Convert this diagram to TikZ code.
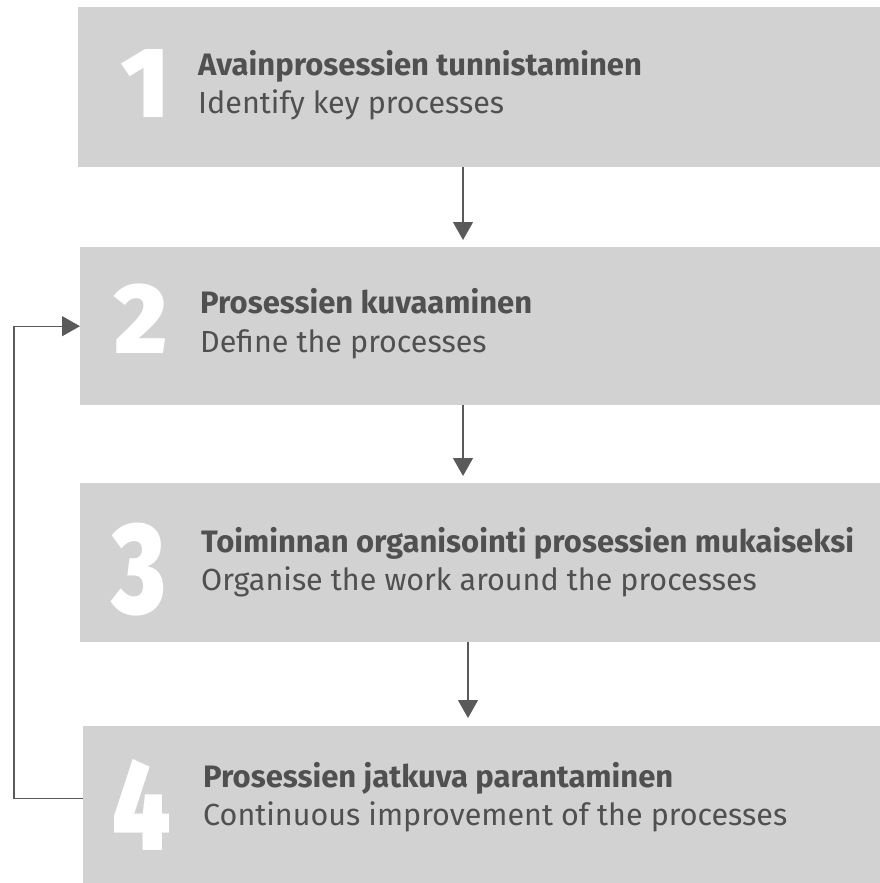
\documentclass[tikz,border=0pt]{standalone}
\usepackage{fontspec}
\setmainfont{Fira Sans}
\newfontfamily\numfont{Fira Sans}[UprightFont={* Black}]
\usetikzlibrary{arrows.meta}
\definecolor{boxgrey}{RGB}{210,210,210}
\definecolor{inkgrey}{RGB}{80,80,80}
\definecolor{linegrey}{RGB}{90,90,90}
\tikzset{
  stepbox/.style={fill=boxgrey, draw=none, inner sep=0pt, anchor=north west},
  stepnum/.style={anchor=base west, inner sep=0pt, text=white,
    font=\numfont\fontsize{100}{100}\selectfont},
  steptitle/.style={anchor=base west, inner sep=0pt, text=inkgrey,
    font=\bfseries\fontsize{31}{37}\selectfont},
  stepsub/.style={anchor=base west, inner sep=0pt, text=inkgrey,
    font=\fontsize{30.5}{37}\selectfont},
  flow/.style={draw=linegrey, line width=1.3pt,
    -{Triangle[length=18pt,width=20pt]}},
}
\begin{document}
\begin{tikzpicture}[x=1pt,y=-1pt]
\useasboundingbox (0,0) rectangle (880,883);

% step boxes
\node[stepbox, minimum width=802pt, minimum height=160pt] (b1) at (78,7) {};
\node[stepbox, minimum width=800pt, minimum height=158pt] (b2) at (80,247) {};
\node[stepbox, minimum width=800pt, minimum height=159pt] (b3) at (80,483) {};
\node[stepbox, minimum width=797pt, minimum height=164pt] (b4) at (83,726) {};

% big step numbers
\node[stepnum] (n1) at (121,117) {1};
\node[stepnum] (n2) at (114,353) {2};
\node[stepnum] (n3) at (112,613) {\scalebox{1}[1.3]{3}};
\node[stepnum] (n4) at (112,850) {\scalebox{1}[1.3]{4}};

% step texts
\node[steptitle] (t1) at (198,75) {Avainprosessien tunnistaminen};
\node[stepsub]   (s1) at (198,113) {Identify key processes};
\node[steptitle] (t2) at (200,313) {Prosessien kuvaaminen};
\node[stepsub]   (s2) at (200,352) {Define the processes};
\node[steptitle] (t3) at (201,552) {Toiminnan organisointi prosessien mukaiseksi};
\node[stepsub]   (s3) at (201,590) {Organise the work around the processes};
\node[steptitle] (t4) at (203,787) {Prosessien jatkuva parantaminen};
\node[stepsub]   (s4) at (203,825) {Continuous improvement of the processes};

% connector columns
\coordinate (c12) at (463,0);
\coordinate (c23) at (463,0);
\coordinate (c34) at (468,0);
\coordinate (loopx) at (14,0);

% flow between steps
\draw[flow] (b1.south -| c12) -- ([yshift=7pt]b2.north -| c12);
\draw[flow] (b2.south -| c23) -- ([yshift=7pt]b3.north -| c23);
\draw[flow] (b3.south -| c34) -- ([yshift=8pt]b4.north -| c34);

% feedback loop from step 4 back to step 2
\draw[flow] ([yshift=10pt]b4.west) -- ([yshift=10pt]b4.west -| loopx) |- (b2.west);
\end{tikzpicture}
\end{document}
